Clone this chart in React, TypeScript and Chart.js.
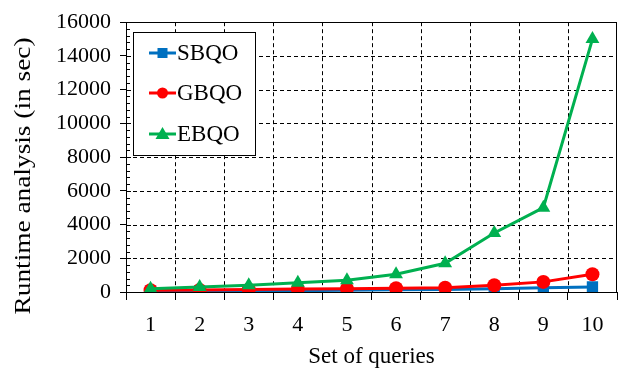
import React, { useEffect, useRef } from "react";
import { Chart, registerables } from "chart.js";

Chart.register(...registerables);

const categories = ["1", "2", "3", "4", "5", "6", "7", "8", "9", "10"];
const sbqo = [50, 60, 70, 80, 100, 130, 150, 200, 250, 300];
const gbqo = [100, 120, 150, 180, 200, 220, 250, 400, 600, 1050];
const ebqo = [200, 300, 400, 550, 700, 1050, 1700, 3500, 5000, 15000];
const seriesNames = ["SBQO", "GBQO", "EBQO"];
const yTicks = [0, 2000, 4000, 6000, 8000, 10000, 12000, 14000, 16000];
const xTitle = "Set of queries";
const yTitle = "Runtime analysis (in sec)";

const BLUE = "#0070C0";
const RED = "#FF0000";
const GREEN = "#00B050";
const FONT = "'Liberation Serif', 'DejaVu Serif', serif";

const gridPlugin = {
  id: "dashGrid",
  beforeDatasetsDraw(chart: any) {
    const ctx = chart.ctx;
    const area = chart.chartArea;
    const x = chart.scales.x;
    const y = chart.scales.y;
    ctx.save();
    ctx.strokeStyle = "#000";
    ctx.lineWidth = 1;
    ctx.setLineDash([4, 3]);
    for (const v of yTicks) {
      const py = Math.round(y.getPixelForValue(v)) + 0.5;
      ctx.beginPath();
      ctx.moveTo(area.left, py);
      ctx.lineTo(area.right, py);
      ctx.stroke();
    }
    const n = categories.length;
    for (let i = 1; i < n; i++) {
      const px = Math.round((x.getPixelForValue(i - 1) + x.getPixelForValue(i)) / 2) + 0.5;
      ctx.beginPath();
      ctx.moveTo(px, area.top);
      ctx.lineTo(px, area.bottom);
      ctx.stroke();
    }
    ctx.restore();
  },
};

const extrasPlugin = {
  id: "extras",
  afterDraw(chart: any) {
    const ctx = chart.ctx;
    const area = chart.chartArea;
    const y = chart.scales.y;
    ctx.save();
    ctx.strokeStyle = "#000";
    ctx.lineWidth = 1;
    // frame
    const L = Math.round(area.left) + 0.5;
    const R = Math.round(area.right) - 0.5;
    const T = Math.round(area.top) + 0.5;
    const B = Math.round(area.bottom) + 0.5;
    ctx.beginPath();
    ctx.moveTo(L, T);
    ctx.lineTo(R, T);
    ctx.lineTo(R, B);
    ctx.lineTo(L, B);
    ctx.closePath();
    ctx.stroke();
    // minor / inner ticks on y axis
    for (let v = 0; v <= 16000; v += 400) {
      const py = Math.round(y.getPixelForValue(v)) + 0.5;
      const len = v % 2000 === 0 ? 5 : 4;
      ctx.beginPath();
      ctx.moveTo(area.left, py);
      ctx.lineTo(area.left + len, py);
      ctx.stroke();
    }
    // legend
    const bx = 133, by = 32, bw = 122, bh = 123;
    ctx.fillStyle = "#fff";
    ctx.fillRect(bx, by, bw, bh);
    ctx.strokeStyle = "#000";
    ctx.lineWidth = 1;
    ctx.strokeRect(bx + 0.5, by + 0.5, bw, bh);
    const colors = [BLUE, RED, GREEN];
    const ys = [53, 93, 134];
    ctx.font = `23px ${FONT}`;
    ctx.textBaseline = "middle";
    ctx.textAlign = "left";
    for (let i = 0; i < 3; i++) {
      const cy = ys[i];
      ctx.strokeStyle = colors[i];
      ctx.fillStyle = colors[i];
      ctx.lineWidth = 3;
      ctx.beginPath();
      ctx.moveTo(149, cy);
      ctx.lineTo(176, cy);
      ctx.stroke();
      const cx = 162.5;
      if (i === 0) {
        ctx.fillRect(cx - 5, cy - 5, 10, 10);
      } else if (i === 1) {
        ctx.beginPath();
        ctx.arc(cx, cy, 5.5, 0, Math.PI * 2);
        ctx.fill();
      } else {
        ctx.beginPath();
        ctx.moveTo(cx, cy - 7);
        ctx.lineTo(cx + 7, cy + 5);
        ctx.lineTo(cx - 7, cy + 5);
        ctx.closePath();
        ctx.fill();
      }
      ctx.fillStyle = "#000";
      ctx.fillText(seriesNames[i], 177, cy + 1);
    }
    // axis titles
    ctx.fillStyle = "#000";
    ctx.textAlign = "center";
    ctx.textBaseline = "middle";
    ctx.font = `23px ${FONT}`;
    ctx.fillText(xTitle, (area.left + area.right) / 2, 357);
    ctx.save();
    ctx.translate(24, 176);
    ctx.rotate(-Math.PI / 2);
    const w = ctx.measureText(yTitle).width;
    ctx.scale(277 / w, 1);
    ctx.fillText(yTitle, 0, 0);
    ctx.restore();
    ctx.restore();
  },
};

export default function App() {
  const ref = useRef<HTMLCanvasElement | null>(null);
  useEffect(() => {
    document.body.style.margin = "0";
    const canvas = ref.current!;
    const common = {
      borderWidth: 3,
      pointBorderWidth: 0,
      tension: 0,
    };
    const chart = new Chart(canvas, {
      type: "line",
      data: {
        labels: categories,
        datasets: [
          {
            ...common,
            label: seriesNames[0],
            data: sbqo,
            borderColor: BLUE,
            backgroundColor: BLUE,
            pointStyle: "rect",
            pointRadius: 8,
            order: 2,
          },
          {
            ...common,
            label: seriesNames[1],
            data: gbqo,
            borderColor: RED,
            backgroundColor: RED,
            pointStyle: "circle",
            pointRadius: 7,
            order: 1,
          },
          {
            ...common,
            label: seriesNames[2],
            data: ebqo,
            borderColor: GREEN,
            backgroundColor: GREEN,
            pointStyle: "triangle",
            pointRadius: 8,
            order: 0,
          },
        ],
      },
      options: {
        animation: false,
        responsive: false,
        maintainAspectRatio: false,
        layout: { padding: { top: 21, right: 3, left: 0, bottom: 0 } },
        plugins: { legend: { display: false }, tooltip: { enabled: false } },
        scales: {
          x: {
            type: "category",
            offset: true,
            grid: {
              offset: true,
              drawOnChartArea: false,
              color: "#000",
              lineWidth: 1,
              tickLength: 8,
              tickColor: "#000",
            },
            border: { display: true, color: "#000", width: 1 },
            ticks: {
              color: "#000",
              font: { family: FONT, size: 22 },
              padding: 12,
              maxRotation: 0,
            },
            title: { display: false },
            afterFit(scale: any) {
              scale.height = 79;
            },
          },
          y: {
            min: 0,
            max: 16000,
            afterBuildTicks(scale: any) {
              scale.ticks = yTicks.map((v) => ({ value: v }));
            },
            grid: {
              drawOnChartArea: false,
              color: "#000",
              lineWidth: 1,
              tickLength: 6,
              tickColor: "#000",
            },
            border: { display: true, color: "#000", width: 1 },
            ticks: {
              color: "#000",
              font: { family: FONT, size: 22 },
              padding: 9,
              callback: (v: any) => String(v),
            },
            title: { display: false },
            afterFit(scale: any) {
              scale.width = 126;
            },
          },
        },
      },
      plugins: [gridPlugin, extrasPlugin],
    } as any);
    return () => chart.destroy();
  }, []);
  return <canvas ref={ref} width={625} height={371} style={{ display: "block" }} />;
}
